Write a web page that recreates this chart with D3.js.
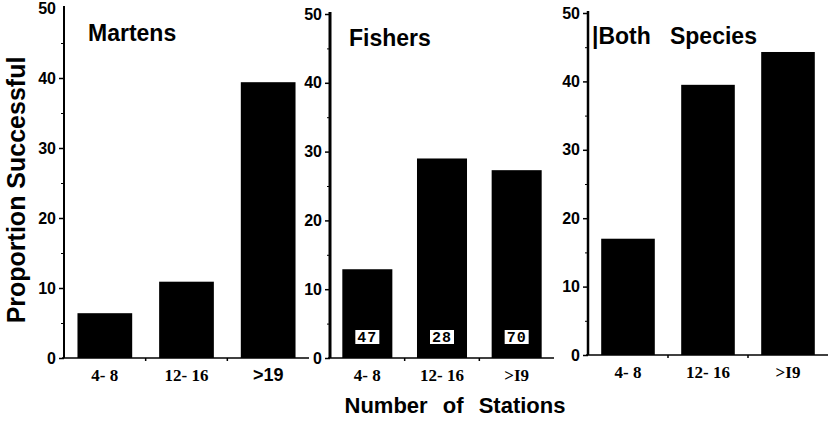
<!DOCTYPE html>
<html><head><meta charset="utf-8">
<script src="https://cdn.jsdelivr.net/npm/d3@7/dist/d3.min.js"></script>
<style>body{margin:0;background:#fff}svg{display:block}</style>
</head><body>
<svg id="c" width="833" height="433"></svg>
<script>
const categories = ["4-8", "12-16", ">19"];
const tickLabelsP1 = ["4- 8", "12- 16", ">19"];
const tickLabelsP23 = ["4- 8", "12- 16", ">I9"];
const martens = [6.4, 10.9, 39.4];
const fishers = [12.9, 29.0, 27.3];
const both = [17.0, 39.5, 44.3];
const fisherN = [47, 28, 70];
const yTicks = [0, 10, 20, 30, 40, 50];
const panelTitles = ["Martens", "Fishers", "|Both   Species"];

const svg = d3.select("#c");

const panels = [
  {data: martens, labels: tickLabelsP1, title: panelTitles[0], x0: 64, x1: 309, y0: 358, y50: 8, axisW: 2, tick50: false, titleX: 88, titleY: 41, lblY: 381, sansLast: true},
  {data: fishers, labels: tickLabelsP23, title: panelTitles[1], x0: 330, x1: 554, y0: 358, y50: 14, axisW: 3, tick50: true, titleX: 349, titleY: 46, lblY: 381, boxes: fisherN},
  {data: both, labels: tickLabelsP23, title: panelTitles[2], x0: 588, x1: 828, y0: 355, y50: 13, axisW: 2.5, tick50: true, titleX: 592, titleY: 44, lblY: 378}
];

panels.forEach(p => {
  const x = d3.scaleBand().domain(categories).range([p.x0, p.x1]).paddingInner(0.33).paddingOuter(0.165);
  const y = d3.scaleLinear().domain([0, 50]).range([p.y0, p.y50]);
  const g = svg.append("g");

  // bars
  g.selectAll("rect.bar").data(p.data).join("rect")
    .attr("x", (d, i) => x(categories[i]))
    .attr("width", x.bandwidth())
    .attr("y", d => y(d))
    .attr("height", d => y(0) - y(d))
    .attr("fill", "#000");

  // y axis
  const yAxis = d3.axisLeft(y).tickValues(p.tick50 ? yTicks : yTicks.slice(0, 5)).tickSize(5).tickFormat(d3.format("d"));
  const ya = g.append("g").attr("transform", `translate(${p.x0},0)`).call(yAxis);
  ya.select(".domain").attr("d", `M0,${p.y0}V${p.y50 - 2}`).attr("stroke-width", p.axisW);
  ya.selectAll(".tick line").attr("stroke-width", 1.5);
  ya.selectAll(".tick text").attr("font-family", "Liberation Sans, Arial, sans-serif")
    .attr("font-weight", "bold").attr("font-size", 16).attr("x", -8);
  if (!p.tick50) {
    g.append("text").attr("x", p.x0 - 8).attr("y", y(50) + 6).attr("text-anchor", "end")
      .attr("font-family", "Liberation Sans, Arial, sans-serif").attr("font-weight", "bold").attr("font-size", 16).text("50");
  }
  // minor ticks
  const minor = d3.axisLeft(y).tickValues([5, 15, 25, 35, 45]).tickSize(3).tickFormat("");
  const mi = g.append("g").attr("transform", `translate(${p.x0},0)`).call(minor);
  mi.select(".domain").remove();

  // x axis
  g.append("line").attr("x1", p.x0 - 2).attr("x2", p.x1).attr("y1", p.y0).attr("y2", p.y0)
    .attr("stroke", "#000").attr("stroke-width", 1.5);
  const step = x.step();
  g.selectAll("line.xt").data([1, 2]).join("line")
    .attr("x1", d => p.x0 + d * step).attr("x2", d => p.x0 + d * step)
    .attr("y1", p.y0).attr("y2", p.y0 + 3).attr("stroke", "#000").attr("stroke-width", 1.5);

  // x labels
  g.selectAll("text.xl").data(p.labels).join("text")
    .attr("x", (d, i) => x(categories[i]) + x.bandwidth() / 2)
    .attr("y", p.lblY)
    .attr("text-anchor", "middle")
    .attr("font-family", (d, i) => (p.sansLast && i === 2) ? "Liberation Sans, Arial, sans-serif" : "Liberation Serif, Times New Roman, serif")
    .attr("font-weight", "bold")
    .attr("font-size", (d, i) => (p.sansLast && i === 2) ? 18 : 17)
    .style("white-space", "pre")
    .text(d => d);

  // title
  g.append("text").attr("x", p.titleX).attr("y", p.titleY)
    .attr("font-family", "Liberation Sans, Arial, sans-serif").attr("font-weight", "bold")
    .attr("font-size", 23).style("white-space", "pre").text(p.title);

  // sample-size boxes
  if (p.boxes) {
    const bg = g.selectAll("g.box").data(p.boxes).join("g")
      .attr("transform", (d, i) => `translate(${x(categories[i]) + x.bandwidth() / 2},${p.y0 - 21})`);
    bg.append("rect").attr("x", -12).attr("y", -7).attr("width", 24).attr("height", 14).attr("fill", "#fff");
    bg.append("text").attr("text-anchor", "middle").attr("y", 5)
      .attr("font-family", "Liberation Mono, DejaVu Sans Mono, monospace").attr("font-weight", "bold")
      .attr("font-size", 15).style("letter-spacing", "1px").text(d => d);
  }
});

// axis titles
svg.append("text").attr("transform", "translate(25,190) rotate(-90)").attr("text-anchor", "middle")
  .attr("font-family", "Liberation Sans, Arial, sans-serif").attr("font-weight", "bold").attr("font-size", 25)
  .text("Proportion Successful");
svg.append("text").attr("x", 455).attr("y", 413).attr("text-anchor", "middle")
  .attr("font-family", "Liberation Sans, Arial, sans-serif").attr("font-weight", "bold").attr("font-size", 22)
  .style("word-spacing", "9px").text("Number of Stations");
</script>
</body></html>
